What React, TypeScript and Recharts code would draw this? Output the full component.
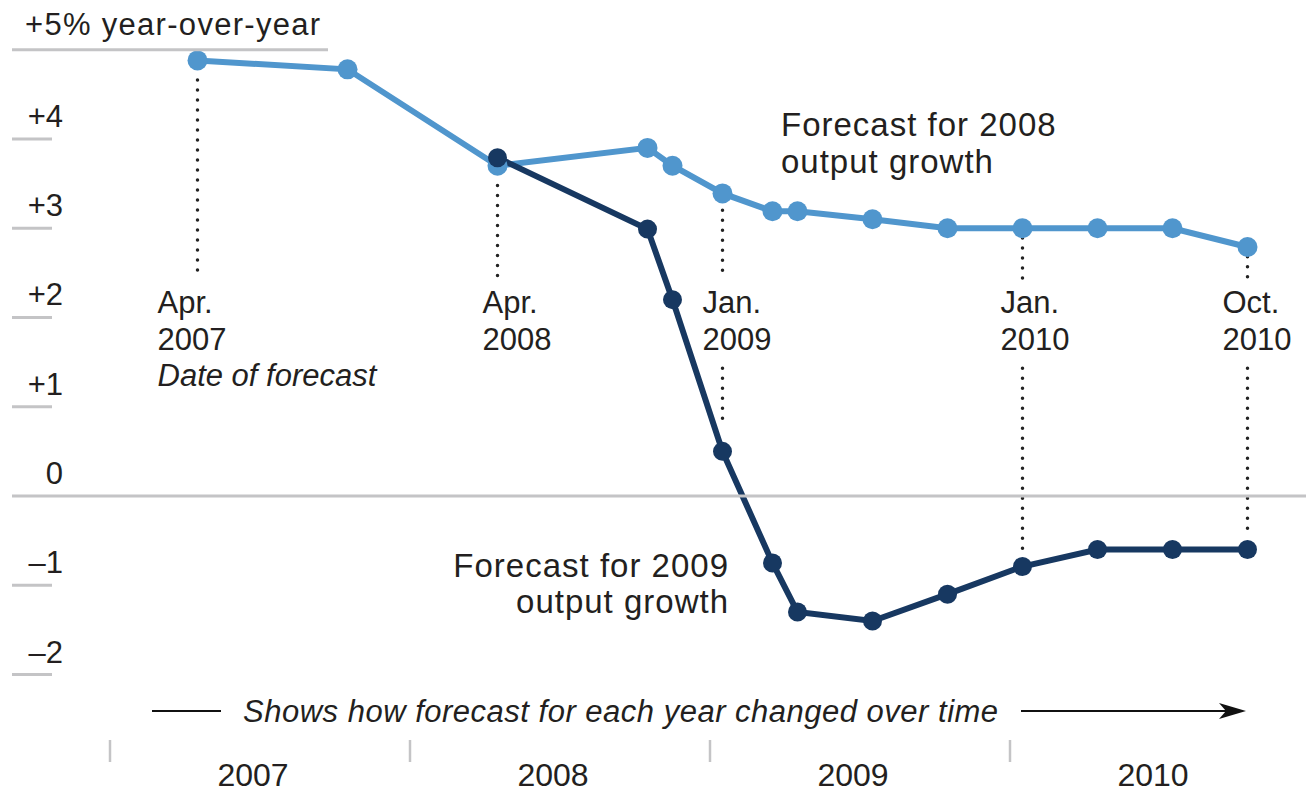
import { ComposedChart, Line, XAxis, YAxis, ReferenceLine, ReferenceDot } from "recharts";

// forecast dates (when each forecast was published)
const FORECAST_DATES = [
  "Apr 2007", "Oct 2007", "Apr 2008", "Oct 2008", "Nov 2008", "Jan 2009", "Mar 2009",
  "Apr 2009", "Jul 2009", "Oct 2009", "Jan 2010", "Apr 2010", "Jul 2010", "Oct 2010",
];
// forecast for 2008 output growth, % year-over-year
const GROWTH_2008 = [4.88, 4.78, 3.7, 3.9, 3.7, 3.39, 3.19, 3.19, 3.1, 3.0, 3.0, 3.0, 3.0, 2.79];
// forecast for 2009 output growth
const GROWTH_2009 = [null, null, 3.79, 2.99, 2.2, 0.5, -0.75, -1.3, -1.4, -1.1, -0.79, -0.6, -0.6, -0.6];

const Y_TICKS = [5, 4, 3, 2, 1, 0, -1, -2];
const Y_LABELS = ["+5% year-over-year", "+4", "+3", "+2", "+1", "0", "–1", "–2"];
const YEARS = ["2007", "2008", "2009", "2010"];
const YEAR_STARTS = [0, 12, 24, 36];

const MONTHS = ["Jan", "Feb", "Mar", "Apr", "May", "Jun", "Jul", "Aug", "Sep", "Oct", "Nov", "Dec"];
const monthPos = (label: string) => {
  const [m, y] = label.split(" ");
  return (Number(y) - 2007) * 12 + MONTHS.indexOf(m) + 0.5;
};

const data = FORECAST_DATES.map((d, i) => ({
  date: d,
  x: monthPos(d),
  f2008: GROWTH_2008[i],
  f2009: GROWTH_2009[i],
}));

const FONT = '"Liberation Sans", Arial, Helvetica, sans-serif';
const INK = "#231f20";
const LIGHT = "#5096cd";
const DARK = "#173861";
const RULE = "#c4c4c6";

function YTick({ y, payload }: any) {
  const v = payload.value;
  const label = Y_LABELS[Y_TICKS.indexOf(v)];
  const end = v === 0 ? 1306 : v === 5 ? 328 : 52;
  return (
    <g>
      <line x1={12} x2={end} y1={y} y2={y} stroke={RULE} strokeWidth={3} />
      {v === 5 ? (
        <text x={25} y={y - 15} fontFamily={FONT} fontSize={31} letterSpacing={1.3} fill={INK}>
          {label}
        </text>
      ) : (
        <text x={63} y={y - 12} textAnchor="end" fontFamily={FONT} fontSize={31} fill={INK}>
          {label}
        </text>
      )}
    </g>
  );
}

function XTick({ x, payload }: any) {
  const label = YEARS[YEAR_STARTS.indexOf(payload.value)];
  return (
    <g>
      <line x1={x} x2={x} y1={740} y2={762} stroke={RULE} strokeWidth={2.5} />
      <text x={x + 143} y={786} textAnchor="middle" fontFamily={FONT} fontSize={32} fill={INK}>
        {label}
      </text>
    </g>
  );
}

const textBlock = (lines: string[], dx: number, anchor: string, spacing: number, size = 31, track = 0, note?: string) =>
  (p: any) => (
    <text x={p.cx + dx} y={p.cy} textAnchor={anchor} fontFamily={FONT} fontSize={size} fill={INK} letterSpacing={track}>
      {lines.map((l, i) => (
        <tspan key={i} x={p.cx + dx} dy={i === 0 ? 0 : spacing}>
          {l}
        </tspan>
      ))}
      {note && (
        <tspan x={p.cx + dx} dy={spacing - 1} fontStyle="italic">
          {note}
        </tspan>
      )}
    </text>
  );

const dotted = { stroke: "#222", strokeWidth: 3.5, strokeDasharray: "0 10", strokeLinecap: "round" as const };

// dotted leaders, in data units (y = % growth)
const LEADERS: [string, number, number][] = [
  ["Apr 2007", 4.66, 2.44],
  ["Apr 2008", 3.48, 2.44],
  ["Jan 2009", 3.2, 2.44],
  ["Jan 2009", 1.43, 0.76],
  ["Jan 2010", 2.89, 2.44],
  ["Jan 2010", 1.43, -0.64],
  ["Oct 2010", 2.68, 2.44],
  ["Oct 2010", 1.43, -0.41],
];

const CALLOUTS: { at: string; dx: number; lines: string[]; note?: string }[] = [
  { at: "Apr 2007", dx: -40, lines: ["Apr.", "2007"], note: "Date of forecast" },
  { at: "Apr 2008", dx: -15, lines: ["Apr.", "2008"] },
  { at: "Jan 2009", dx: -20, lines: ["Jan.", "2009"] },
  { at: "Jan 2010", dx: -22, lines: ["Jan.", "2010"] },
  { at: "Oct 2010", dx: -25, lines: ["Oct.", "2010"] },
];

export default function App() {
  return (
    <div style={{ position: "absolute", left: 0, top: 0, background: "#fff" }}>
      <ComposedChart width={1306} height={794} data={data} margin={{ top: 14, right: 0, bottom: 0, left: 0 }}>
        <XAxis
          type="number"
          dataKey="x"
          domain={[0, 47.84]}
          ticks={YEAR_STARTS}
          interval={0}
          height={57}
          axisLine={false}
          tickLine={false}
          tick={<XTick />}
          allowDataOverflow
        />
        <YAxis
          type="number"
          domain={[-2.7, 5.4]}
          ticks={Y_TICKS}
          interval={0}
          width={110}
          axisLine={false}
          tickLine={false}
          tick={<YTick />}
          allowDataOverflow
        />

        {LEADERS.map(([at, from, to], i) => (
          <ReferenceLine
            key={"l" + i}
            segment={[{ x: monthPos(at), y: from }, { x: monthPos(at), y: to }]}
            {...dotted}
          />
        ))}

        {CALLOUTS.map((c) => (
          <ReferenceDot
            key={c.at}
            x={monthPos(c.at)}
            y={2.05}
            r={0}
            shape={textBlock(c.lines, c.dx, "start", 37, 31, 0, c.note)}
          />
        ))}

        <ReferenceDot x={26.84} y={4.03} r={0} shape={textBlock(["Forecast for 2008", "output growth"], 0, "start", 37, 33, 1)} />
        <ReferenceDot x={24.76} y={-0.91} r={0} shape={textBlock(["Forecast for 2009", "output growth"], 0, "end", 36, 33, 1)} />

        {/* direction-of-time arrow */}
        <ReferenceLine segment={[{ x: 1.68, y: -2.41 }, { x: 4.44, y: -2.41 }]} stroke="#111" strokeWidth={2} />
        <ReferenceLine segment={[{ x: 36.44, y: -2.41 }, { x: 45.0, y: -2.41 }]} stroke="#111" strokeWidth={2} />
        <ReferenceDot
          x={45.44}
          y={-2.41}
          r={0}
          shape={(p: any) => (
            <polygon
              points={`${p.cx},${p.cy} ${p.cx - 27},${p.cy - 8} ${p.cx - 20},${p.cy} ${p.cx - 27},${p.cy + 8}`}
              fill="#111"
            />
          )}
        />
        <ReferenceDot
          x={5.32}
          y={-2.53}
          r={0}
          shape={(p: any) => (
            <text x={p.cx} y={p.cy} fontFamily={FONT} fontSize={31} fontStyle="italic" letterSpacing={0.5} fill={INK}>
              Shows how forecast for each year changed over time
            </text>
          )}
        />

        <Line
          dataKey="f2008"
          stroke={LIGHT}
          strokeWidth={6}
          dot={{ r: 10, fill: LIGHT, stroke: "none" }}
          activeDot={false}
          isAnimationActive={false}
        />
        <Line
          dataKey="f2009"
          stroke={DARK}
          strokeWidth={6}
          dot={{ r: 9.5, fill: DARK, stroke: "none" }}
          activeDot={false}
          isAnimationActive={false}
        />
      </ComposedChart>
    </div>
  );
}
